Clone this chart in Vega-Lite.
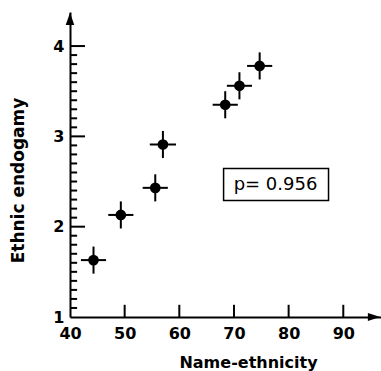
{
  "$schema": "https://vega.github.io/schema/vega-lite/v6.json",
  "width": 311,
  "height": 305,
  "autosize": {"type": "none"},
  "padding": {"left": 70, "top": 12, "right": 0, "bottom": 54},
  "background": "white",
  "config": {"view": {"stroke": null}, "font": "DejaVu Sans"},
  "datasets": {
    "points": [
      {"ne": 44.3, "ee": 1.63, "ne_lo": 42.0, "ne_hi": 46.6, "ee_lo": 1.48, "ee_hi": 1.78},
      {"ne": 49.3, "ee": 2.13, "ne_lo": 47.0, "ne_hi": 51.6, "ee_lo": 1.98, "ee_hi": 2.28},
      {"ne": 55.6, "ee": 2.43, "ne_lo": 53.3, "ne_hi": 57.9, "ee_lo": 2.28, "ee_hi": 2.58},
      {"ne": 57.0, "ee": 2.91, "ne_lo": 54.6, "ne_hi": 59.4, "ee_lo": 2.76, "ee_hi": 3.06},
      {"ne": 68.4, "ee": 3.35, "ne_lo": 66.1, "ne_hi": 70.7, "ee_lo": 3.2, "ee_hi": 3.5},
      {"ne": 71.0, "ee": 3.56, "ne_lo": 68.7, "ne_hi": 73.3, "ee_lo": 3.41, "ee_hi": 3.71},
      {"ne": 74.7, "ee": 3.78, "ne_lo": 72.4, "ne_hi": 77.0, "ee_lo": 3.63, "ee_hi": 3.93}
    ],
    "yticks": [
      {"tv": 1.1, "tx0": 40, "tx1": 41.3}, {"tv": 1.2, "tx0": 40, "tx1": 41.3}, {"tv": 1.3, "tx0": 40, "tx1": 41.3},
      {"tv": 1.4, "tx0": 40, "tx1": 41.3}, {"tv": 1.5, "tx0": 40, "tx1": 41.3}, {"tv": 1.6, "tx0": 40, "tx1": 41.3},
      {"tv": 1.7, "tx0": 40, "tx1": 41.3}, {"tv": 1.8, "tx0": 40, "tx1": 41.3}, {"tv": 1.9, "tx0": 40, "tx1": 41.3},
      {"tv": 2.1, "tx0": 40, "tx1": 41.3}, {"tv": 2.2, "tx0": 40, "tx1": 41.3}, {"tv": 2.3, "tx0": 40, "tx1": 41.3},
      {"tv": 2.4, "tx0": 40, "tx1": 41.3}, {"tv": 2.5, "tx0": 40, "tx1": 41.3}, {"tv": 2.6, "tx0": 40, "tx1": 41.3},
      {"tv": 2.7, "tx0": 40, "tx1": 41.3}, {"tv": 2.8, "tx0": 40, "tx1": 41.3}, {"tv": 2.9, "tx0": 40, "tx1": 41.3},
      {"tv": 3.1, "tx0": 40, "tx1": 41.3}, {"tv": 3.2, "tx0": 40, "tx1": 41.3}, {"tv": 3.3, "tx0": 40, "tx1": 41.3},
      {"tv": 3.4, "tx0": 40, "tx1": 41.3}, {"tv": 3.5, "tx0": 40, "tx1": 41.3}, {"tv": 3.6, "tx0": 40, "tx1": 41.3},
      {"tv": 3.7, "tx0": 40, "tx1": 41.3}, {"tv": 3.8, "tx0": 40, "tx1": 41.3}, {"tv": 3.9, "tx0": 40, "tx1": 41.3},
      {"tv": 2, "tx0": 40, "tx1": 42.75}, {"tv": 3, "tx0": 40, "tx1": 42.75}, {"tv": 4, "tx0": 40, "tx1": 42.75}
    ],
    "xticks": [
      {"xv": 50, "ty0": 1, "ty1": 1.135}, {"xv": 60, "ty0": 1, "ty1": 1.135}, {"xv": 70, "ty0": 1, "ty1": 1.135},
      {"xv": 80, "ty0": 1, "ty1": 1.135}, {"xv": 90, "ty0": 1, "ty1": 1.135}
    ],
    "box": [{"bx1": 68.1, "bx2": 87.3, "by1": 2.29, "by2": 2.643, "tx": 77.6, "ty": 2.46, "label": "p= 0.956"}],
    "arrows": [
      {"ax": 95.62, "ay": 1, "shape": "M-1,-0.65L1,0L-1,0.65Z"},
      {"ax": 40, "ay": 4.3, "shape": "M-0.7,1L0,-1L0.7,1Z"}
    ]
  },
  "resolve": {"axis": {"x": "independent", "y": "independent"}},
  "layer": [
    {
      "data": {"name": "points"},
      "mark": {"type": "rule", "color": "black", "strokeWidth": 2},
      "encoding": {
        "x": {
          "field": "ne_lo", "type": "quantitative",
          "scale": {"domain": [40, 96.9], "nice": false, "zero": false},
          "axis": {
            "orient": "bottom",
            "values": [40, 50, 60, 70, 80, 90],
            "grid": false, "zindex": 1, "ticks": false,
            "domainColor": "black", "domainWidth": 2,
            "labelPadding": 8, "labelFlush": false,
            "labelFont": "DejaVu Sans", "labelFontSize": 16, "labelFontWeight": "bold", "labelColor": "black",
            "title": "Name-ethnicity",
            "titleFont": "DejaVu Sans", "titleFontSize": 16, "titleFontWeight": "bold", "titleColor": "black",
            "titleX": 178, "titleY": 45, "titleBaseline": "middle", "titleAlign": "center"
          }
        },
        "x2": {"field": "ne_hi"},
        "y": {
          "field": "ee", "type": "quantitative",
          "scale": {"domain": [1, 4.377], "nice": false, "zero": false},
          "axis": {
            "orient": "left",
            "values": [1, 2, 3, 4],
            "grid": false, "zindex": 1, "ticks": false,
            "domainColor": "black", "domainWidth": 2,
            "labelPadding": 6, "labelFlush": false,
            "labelFont": "DejaVu Sans", "labelFontSize": 16, "labelFontWeight": "bold", "labelColor": "black",
            "title": "Ethnic endogamy",
            "titleFont": "DejaVu Sans", "titleFontSize": 17, "titleFontWeight": "bold", "titleColor": "black",
            "titleX": -52, "titleY": 168, "titleBaseline": "middle", "titleAlign": "center", "titleAngle": -90
          }
        }
      }
    },
    {
      "data": {"name": "yticks"},
      "mark": {"type": "rule", "color": "black", "strokeWidth": 2},
      "encoding": {
        "x": {"field": "tx0", "type": "quantitative", "axis": null},
        "x2": {"field": "tx1"},
        "y": {"field": "tv", "type": "quantitative", "axis": null}
      }
    },
    {
      "data": {"name": "xticks"},
      "mark": {"type": "rule", "color": "black", "strokeWidth": 2},
      "encoding": {
        "x": {"field": "xv", "type": "quantitative", "axis": null},
        "y": {"field": "ty0", "type": "quantitative", "axis": null},
        "y2": {"field": "ty1"}
      }
    },
    {
      "data": {"name": "points"},
      "mark": {"type": "rule", "color": "black", "strokeWidth": 2},
      "encoding": {
        "x": {"field": "ne", "type": "quantitative", "axis": null},
        "y": {"field": "ee_lo", "type": "quantitative", "axis": null},
        "y2": {"field": "ee_hi"}
      }
    },
    {
      "data": {"name": "points"},
      "mark": {"type": "point", "shape": "circle", "filled": true, "color": "black", "opacity": 1, "size": 115},
      "encoding": {
        "x": {"field": "ne", "type": "quantitative", "axis": null},
        "y": {"field": "ee", "type": "quantitative", "axis": null}
      }
    },
    {
      "data": {"name": "box"},
      "mark": {"type": "rect", "fill": "white", "fillOpacity": 0, "stroke": "black", "strokeWidth": 1.5},
      "encoding": {
        "x": {"field": "bx1", "type": "quantitative", "axis": null},
        "x2": {"field": "bx2"},
        "y": {"field": "by1", "type": "quantitative", "axis": null},
        "y2": {"field": "by2"}
      }
    },
    {
      "data": {"name": "box"},
      "mark": {"type": "text", "font": "DejaVu Sans", "fontSize": 18, "color": "black", "align": "center", "baseline": "middle"},
      "encoding": {
        "x": {"field": "tx", "type": "quantitative", "axis": null},
        "y": {"field": "ty", "type": "quantitative", "axis": null},
        "text": {"field": "label"}
      }
    },
    {
      "data": {"name": "arrows"},
      "mark": {"type": "point", "filled": true, "color": "black", "opacity": 1, "size": 150},
      "encoding": {
        "x": {"field": "ax", "type": "quantitative", "axis": null},
        "y": {"field": "ay", "type": "quantitative", "axis": null},
        "shape": {"field": "shape", "type": "nominal", "scale": null}
      }
    }
  ]
}
